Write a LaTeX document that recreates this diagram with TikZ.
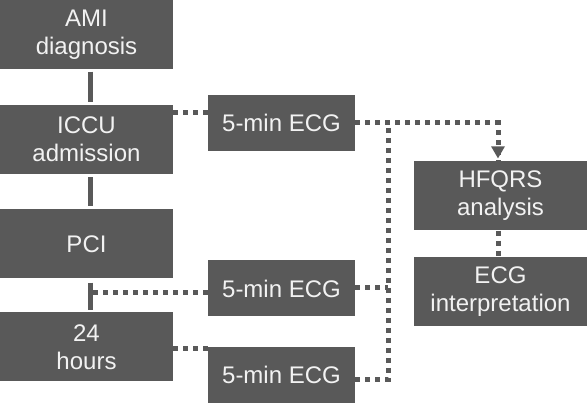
\documentclass[tikz,border=0pt]{standalone}
\usepackage{fontspec}
\setmainfont{Liberation Sans}
\usetikzlibrary{arrows.meta}
\definecolor{boxgray}{HTML}{595959}
\definecolor{txtgray}{HTML}{F2F2F2}
\begin{document}
\begin{tikzpicture}[x=1pt,y=-1pt,
  box/.style={fill=boxgray,draw=none,inner sep=0pt,align=center,text=txtgray,
    font=\fontsize{24}{28}\selectfont},
  bigbox/.style={box,minimum width=173pt,minimum height=69pt},
  ecgbox/.style={box,minimum width=147pt,minimum height=56pt},
  solidline/.style={draw=boxgray,line width=5pt},
  dotline/.style={draw=boxgray,line width=5pt,dash pattern=on 5pt off 5pt}]
\useasboundingbox (0,0) rectangle (587,403);
\node[bigbox] (ami) at (86.5,35) {AMI\\diagnosis};
\node[bigbox] (iccu) at (86.5,139.5) {ICCU\\admission};
\node[bigbox] (pci) at (86.5,244) {PCI};
\node[bigbox] (h24) at (86.5,347) {24\\hours};
\node[ecgbox] (e1) at (281.5,123) {5-min ECG};
\node[ecgbox] (e2) at (281.5,288.5) {5-min ECG};
\node[ecgbox] (e3) at (281.5,375) {5-min ECG};
\node[bigbox] (hf) at (500.5,196) {HFQRS\\analysis};
\node[bigbox] (int) at (500.5,292) {ECG\\interpretation};
\coordinate (j) at (90,293);
\coordinate (t) at (388,123);
\coordinate (a) at (498,123);
% solid
\draw[solidline] ([xshift=3.5pt,yshift=-2pt]ami.south) -- ([xshift=3.5pt,yshift=3pt]iccu.north);
\draw[solidline] ([xshift=3.5pt,yshift=-3pt]iccu.south) -- ([xshift=3.5pt,yshift=3pt]pci.north);
\draw[solidline] ([xshift=3.5pt,yshift=-4pt]pci.south) -- ([xshift=3.5pt,yshift=2pt]h24.north);
% dotted
\draw[dotline] ([yshift=-8pt]iccu.north east) -- ([yshift=-8pt]iccu.north east -| e1.west);
\draw[dotline] ([xshift=3pt]j) -- (j -| e2.west);
\draw[dotline] ([yshift=-2pt]h24.east) -- ([yshift=-2pt]h24.east -| e3.west);
\draw[dotline] (e1.east) -- (a) -- ([yshift=1pt]a |- hf.north);
\fill[boxgray] ([yshift=3pt]a |- hf.north) -- ++(-7,-12) -- ++(14,0) -- cycle;
\draw[dotline] (e2.east -| e2.east) ++(0,-1) -- ++(33,0);
\draw[dotline] ([yshift=-5pt]e3.east) -| (t);
\draw[dotline] (a |- hf.south) -- (a |- int.north);
\end{tikzpicture}
\end{document}
